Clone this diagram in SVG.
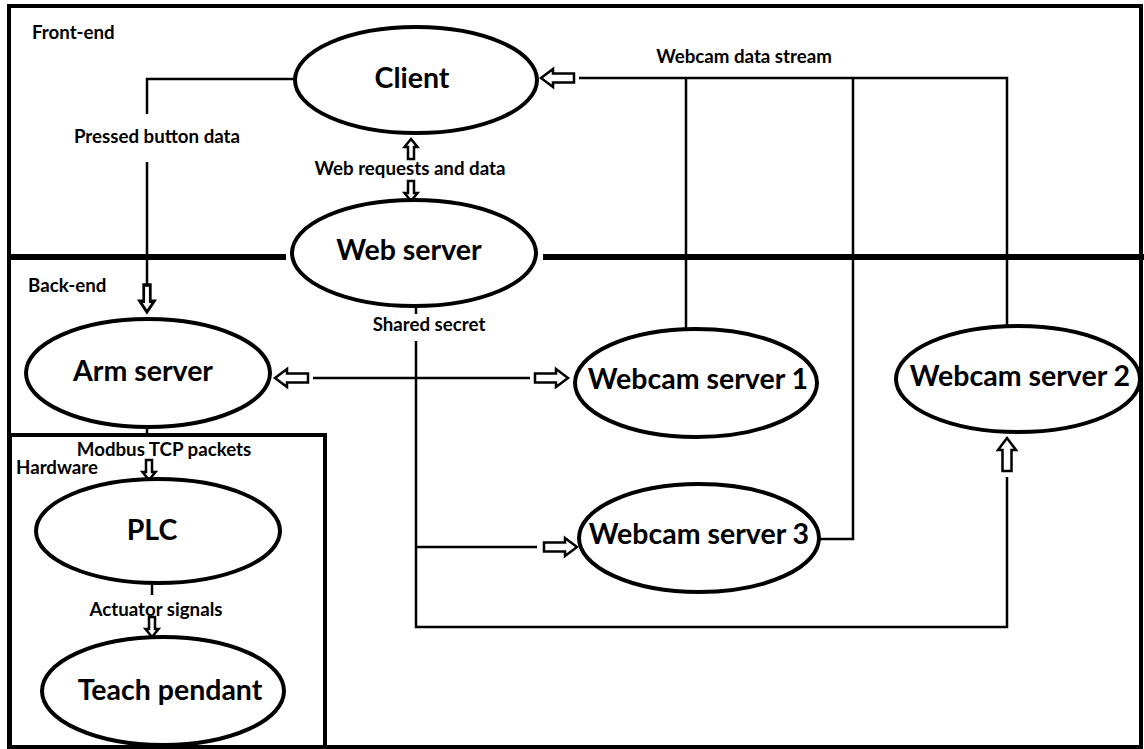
<svg xmlns="http://www.w3.org/2000/svg" xmlns:xlink="http://www.w3.org/1999/xlink" width="1144" height="749" viewBox="0 0 1144 749">
<style>
.frame{fill:none;stroke:#000;stroke-width:4}
.node ellipse{fill:#fff;stroke:#000;stroke-width:4}
.nt{font-family:Lato,"Liberation Sans",sans-serif;font-weight:700;font-size:28.5px;fill:#000;text-anchor:middle}
.lbl{font-family:Lato,"Liberation Sans",sans-serif;font-weight:700;font-size:18.7px;fill:#000}
.c{text-anchor:middle}
.ln{fill:none;stroke:#000;stroke-width:2.5}
.ar{fill:#fff;stroke:#000;stroke-width:2.5;stroke-linejoin:miter}
</style>
<defs>
<path id="big" d="M0,0 L-12,-9 L-12,-4.5 L-33,-4.5 L-33,4.5 L-12,4.5 L-12,9 Z"/>
<path id="sml" d="M0,0 L-8,-6.5 L-8,-3 L-20,-3 L-20,3 L-8,3 L-8,6.5 Z"/>
</defs>
<rect width="1144" height="749" fill="#fff"/>
<g id="frames">
<rect class="frame" x="9" y="6" width="1132" height="741"/>
<line x1="9" y1="257" x2="286" y2="257" stroke="#000" stroke-width="6"/>
<line x1="543" y1="257" x2="1144" y2="257" stroke="#000" stroke-width="6"/>
<rect class="frame" x="10" y="435" width="315" height="314"/>
<text class="lbl" x="32" y="39">Front-end</text>
<text class="lbl" x="28" y="292">Back-end</text>
<text class="lbl" x="16" y="474">Hardware</text>
</g>
<g id="connectors">
<path class="ln" d="M295,79 H147 V114 M147,162 V285"/>
<use href="#sml" class="ar" transform="translate(147,312) rotate(90) scale(1.35,1.1)"/>
<text class="lbl c" x="157" y="143">Pressed button data</text>
<use href="#sml" class="ar" transform="translate(411,139) rotate(-90)"/>
<use href="#sml" class="ar" transform="translate(411,201) rotate(90)"/>
<text class="lbl c" x="410" y="175">Web requests and data</text>
<use href="#big" class="ar" transform="translate(541,78) rotate(180)"/>
<path class="ln" d="M579,78 H1007 V325 M686,78 V330 M853,78 V539 H820"/>
<text class="lbl c" x="744" y="63">Webcam data stream</text>
<path class="ln" d="M416,306 V314 M416,341 V627 H1007 V477 M416,547 H537"/>
<use href="#big" class="ar" transform="translate(1007,438) rotate(-90)"/>
<use href="#big" class="ar" transform="translate(577,547)"/>
<text class="lbl c" x="429" y="331">Shared secret</text>
<use href="#big" class="ar" transform="translate(275,378) rotate(180)"/>
<path class="ln" d="M313,378 H530"/>
<use href="#big" class="ar" transform="translate(568,378)"/>
<path class="ln" d="M147,427 V435"/>
<use href="#sml" class="ar" transform="translate(149,480) rotate(90)"/>
<text class="lbl c" x="164" y="456">Modbus TCP packets</text>
<path class="ln" d="M152,583 V595"/>
<use href="#sml" class="ar" transform="translate(152,637) rotate(90)"/>
<text class="lbl c" x="156" y="616">Actuator signals</text>
</g>
<g id="client" class="node"><ellipse cx="416" cy="80" rx="121" ry="53"/><text class="nt" x="412" y="88">Client</text></g>
<g id="webserver" class="node"><ellipse cx="414" cy="253" rx="122" ry="53"/><text class="nt" x="409" y="260">Web server</text></g>
<g id="armserver" class="node"><ellipse cx="148" cy="373" rx="122" ry="54"/><text class="nt" x="143" y="381">Arm server</text></g>
<g id="webcam1" class="node"><ellipse cx="696" cy="383" rx="121" ry="54"/><text class="nt" x="698" y="389">Webcam server 1</text></g>
<g id="webcam2" class="node"><ellipse cx="1018" cy="379" rx="122" ry="53"/><text class="nt" x="1020" y="386">Webcam server 2</text></g>
<g id="webcam3" class="node"><ellipse cx="699" cy="538" rx="120" ry="54"/><text class="nt" x="699" y="544">Webcam server 3</text></g>
<g id="plc" class="node"><ellipse cx="158" cy="531" rx="122" ry="52"/><text class="nt" x="152" y="540">PLC</text></g>
<g id="teach" class="node"><ellipse cx="163" cy="691" rx="121" ry="54"/><text class="nt" x="170" y="700">Teach pendant</text></g>
</svg>
